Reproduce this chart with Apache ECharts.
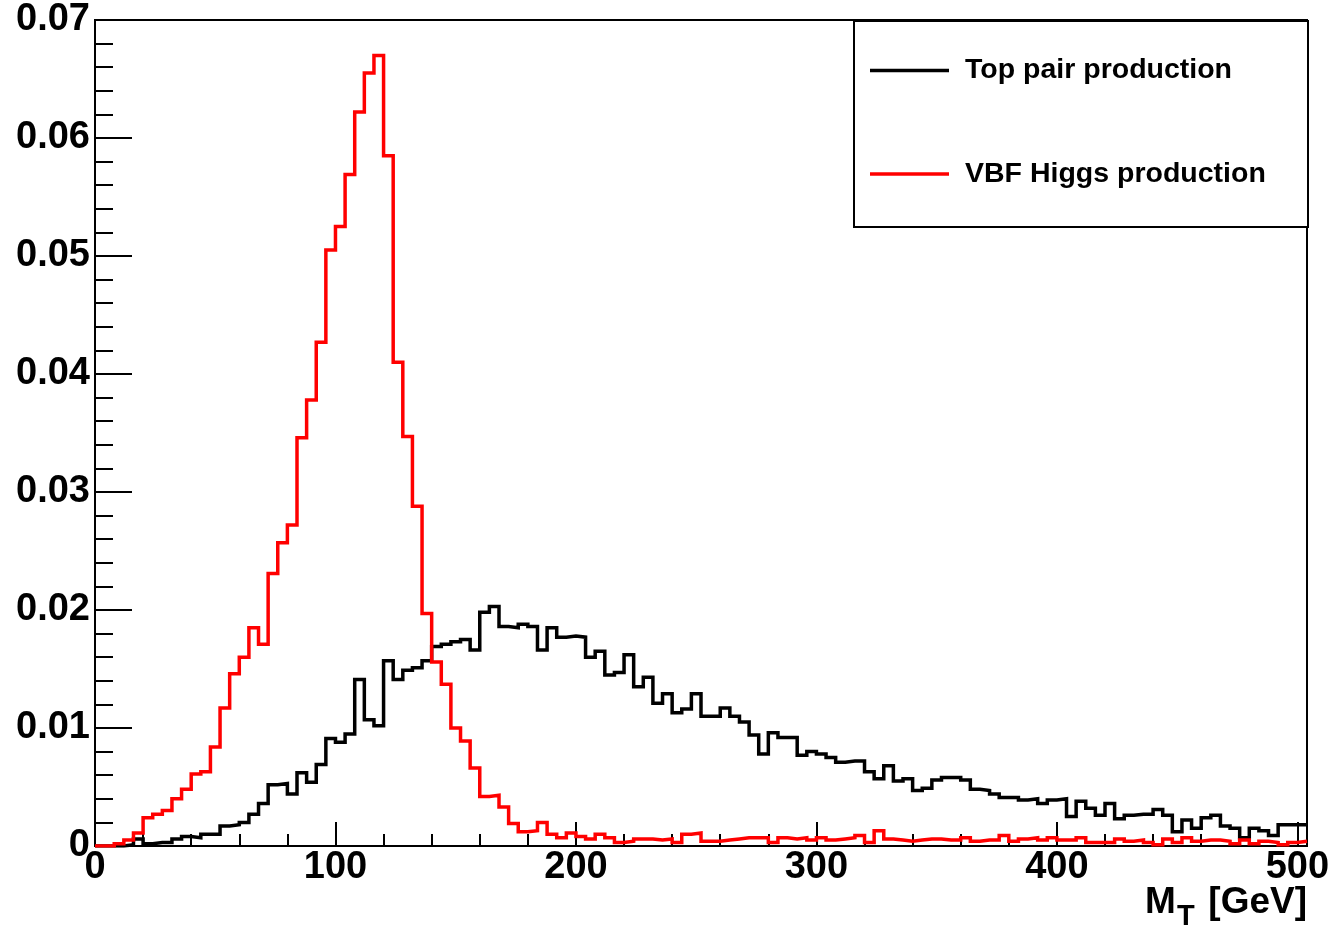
<!DOCTYPE html>
<html>
<head>
<meta charset="utf-8">
<script src="https://cdn.jsdelivr.net/npm/echarts@6/dist/echarts.min.js"></script>
<style>
html,body{margin:0;padding:0;background:#fff;}
#chart{width:1335px;height:937px;}
</style>
</head>
<body>
<div id="chart"></div>
<script>
// Histogram binning: 126 bins of 4 GeV from 0 to 504 GeV
const binLow = 0;
const binWidth = 4;
const nBins = 126;

const seriesNames = ['Top pair production', 'VBF Higgs production'];

const topPair = [
0, 0, 0, 0.0001, 0.0006, 0.0002, 0.0003, 0.0003, 0.0006, 0.0008,
0.0007, 0.0010, 0.0010, 0.0017, 0.0018, 0.0020, 0.0027, 0.0036, 0.0052, 0.0053,
0.0044, 0.0062, 0.0054, 0.0069, 0.0091, 0.0088, 0.0095, 0.0141, 0.0107, 0.0102,
0.0157, 0.0141, 0.0149, 0.0151, 0.0157, 0.0169, 0.0171, 0.0173, 0.0175, 0.0166,
0.0198, 0.0203, 0.0186, 0.0185, 0.0188, 0.0186, 0.0166, 0.0185, 0.0177, 0.0178,
0.0177, 0.0160, 0.0165, 0.0145, 0.0147, 0.0162, 0.0135, 0.0143, 0.0121, 0.0129,
0.0113, 0.0116, 0.0129, 0.0110, 0.0110, 0.0117, 0.0110, 0.0105, 0.0094, 0.0078,
0.0096, 0.0092, 0.0092, 0.0077, 0.0080, 0.0078, 0.0075, 0.0071, 0.0072, 0.0072,
0.0063, 0.0057, 0.0068, 0.0055, 0.0057, 0.0047, 0.0049, 0.0056, 0.0058, 0.0058,
0.0056, 0.0048, 0.0047, 0.0044, 0.0041, 0.0041, 0.0039, 0.0040, 0.0036, 0.0039,
0.0040, 0.0025, 0.0038, 0.0032, 0.0026, 0.0036, 0.0023, 0.0026, 0.0027, 0.0027,
0.0031, 0.0026, 0.0012, 0.0022, 0.0015, 0.0024, 0.0026, 0.0017, 0.0015, 0.0007,
0.0015, 0.0013, 0.0009, 0.0018, 0.0018, 0.0018
];

const vbfHiggs = [
0.0000, 0.0000, 0.0002, 0.0005, 0.0011, 0.0024, 0.0027, 0.0030, 0.0040, 0.0048,
0.0061, 0.0063, 0.0084, 0.0117, 0.0146, 0.0160, 0.0185, 0.0171, 0.0231, 0.0257,
0.0272, 0.0346, 0.0378, 0.0427, 0.0505, 0.0525, 0.0569, 0.0622, 0.0655, 0.0670,
0.0585, 0.0410, 0.0347, 0.0288, 0.0197, 0.0156, 0.0137, 0.0100, 0.0089, 0.0066,
0.0042, 0.0043, 0.0033, 0.0019, 0.0012, 0.0013, 0.0020, 0.0010, 0.0007, 0.0011,
0.0008, 0.0006, 0.0010, 0.0007, 0.0003, 0.0004, 0.0006, 0.0006, 0.0005, 0.0006,
0.0003, 0.0010, 0.0011, 0.0004, 0.0004, 0.0005, 0.0006, 0.0007, 0.0007, 0.0007,
0.0003, 0.0007, 0.0006, 0.0007, 0.0005, 0.0007, 0.0005, 0.0006, 0.0007, 0.0009,
0.0003, 0.0013, 0.0006, 0.0005, 0.0004, 0.0005, 0.0006, 0.0006, 0.0005, 0.0005,
0.0007, 0.0004, 0.0005, 0.0005, 0.0009, 0.0004, 0.0006, 0.0007, 0.0005, 0.0007,
0.0005, 0.0005, 0.0007, 0.0003, 0.0003, 0.0003, 0.0006, 0.0004, 0.0005, 0.0003,
0.0001, 0.0006, 0.0003, 0.0007, 0.0004, 0.0005, 0.0005, 0.0004, 0.0002, 0.0005,
0.0002, 0.0004, 0.0003, 0.0001, 0.0003, 0.0004
];

const xTickValues = [0, 100, 200, 300, 400, 500];
const yTickValues = [0, 0.01, 0.02, 0.03, 0.04, 0.05, 0.06, 0.07];

function histPoints(vals) {
  const pts = [];
  for (let i = 0; i < vals.length; i++) pts.push([binLow + i * binWidth, vals[i]]);
  pts.push([binLow + vals.length * binWidth, vals[vals.length - 1]]);
  return pts;
}

const FONT = "'Liberation Sans', Arial, Helvetica, sans-serif";
const chart = echarts.init(document.getElementById('chart'), null, {renderer: 'canvas'});

const gridL = 95, gridT = 20, gridR = 28, gridB = 91;

chart.setOption({
  animation: false,
  backgroundColor: '#fff',
  grid: {left: gridL, top: gridT, right: gridR, bottom: gridB, show: true,
         borderColor: '#000', borderWidth: 2, backgroundColor: 'transparent'},
  xAxis: [{
    type: 'value', min: binLow, max: binLow + nBins * binWidth, interval: 100,
    axisLine: {show: true, lineStyle: {color: '#000', width: 2}},
    axisTick: {show: true, inside: true, length: 24, lineStyle: {color: '#000', width: 2}},
    splitLine: {show: false},
    axisLabel: {
      show: true, margin: 3, color: '#000', fontFamily: FONT, fontWeight: 'bold', fontSize: 38,
      formatter: v => (xTickValues.indexOf(v) >= 0 ? String(v) : '')
    }
  }, {
    type: 'value', min: binLow, max: binLow + nBins * binWidth, interval: 20, position: 'bottom',
    axisLine: {show: false},
    axisTick: {show: true, inside: true, length: 12, lineStyle: {color: '#000', width: 2}},
    splitLine: {show: false},
    axisLabel: {show: false}
  }],
  yAxis: {
    type: 'value', min: 0, max: 0.07, interval: 0.01,
    axisLine: {show: true, lineStyle: {color: '#000', width: 2}},
    axisTick: {show: true, inside: true, length: 37, lineStyle: {color: '#000', width: 2}},
    minorTick: {show: true, splitNumber: 5, length: 18, lineStyle: {color: '#000', width: 2}},
    splitLine: {show: false},
    axisLabel: {
      show: true, margin: 5, color: '#000', fontFamily: FONT, fontWeight: 'bold', fontSize: 38,
      formatter: v => {
        const k = yTickValues.findIndex(t => Math.abs(t - v) < 1e-9);
        if (k < 0) return '';
        return k === 0 ? '0' : yTickValues[k].toFixed(2);
      }
    }
  },
  series: [{
    name: seriesNames[0], type: 'line', step: 'end', xAxisIndex: 0,
    data: histPoints(topPair), showSymbol: false, symbol: 'none', color: '#000',
    lineStyle: {color: '#000', width: 3.5, join: 'miter', cap: 'butt'}, z: 2
  }, {
    name: seriesNames[1], type: 'line', step: 'end', xAxisIndex: 0,
    data: histPoints(vbfHiggs), showSymbol: false, symbol: 'none', color: '#ff0000',
    lineStyle: {color: '#ff0000', width: 3.5, join: 'miter', cap: 'butt'}, z: 3
  }],
  graphic: [
    {type: 'rect', left: 853, top: 20, z: 10,
     shape: {width: 454, height: 206},
     style: {fill: '#fff', stroke: '#000', lineWidth: 2}},
    {type: 'line', z: 11, shape: {x1: 870, y1: 70.5, x2: 949, y2: 70.5},
     style: {stroke: '#000', lineWidth: 3.5}},
    {type: 'text', z: 11, x: 965, y: 70.5,
     style: {text: seriesNames[0], fill: '#000', font: "bold 28.5px " + FONT, textVerticalAlign: 'middle', textAlign: 'left'}},
    {type: 'line', z: 11, shape: {x1: 870, y1: 174, x2: 949, y2: 174},
     style: {stroke: '#ff0000', lineWidth: 3.5}},
    {type: 'text', z: 11, x: 965, y: 174,
     style: {text: seriesNames[1], fill: '#000', font: "bold 28.5px " + FONT, textVerticalAlign: 'middle', textAlign: 'left'}},
    // axis title M_T [GeV]
    {type: 'text', z: 11, x: 1307, y: 921,
     style: {text: '[GeV]', fill: '#000', font: "bold 37px " + FONT, textAlign: 'right', textVerticalAlign: 'bottom'}},
    {type: 'text', z: 11, x: 1177, y: 931,
     style: {text: 'T', fill: '#000', font: "bold 29px " + FONT, textAlign: 'left', textVerticalAlign: 'bottom'}},
    {type: 'text', z: 11, x: 1145, y: 921,
     style: {text: 'M', fill: '#000', font: "bold 37px " + FONT, textAlign: 'left', textVerticalAlign: 'bottom'}}
  ]
});
</script>
</body>
</html>
